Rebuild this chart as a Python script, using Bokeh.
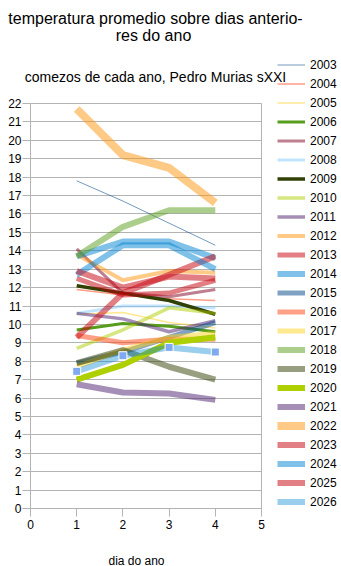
from bokeh.plotting import figure
from bokeh.models import Legend, LegendItem, Label, FixedTicker, Range1d, Grid
from bokeh.embed import file_html
from bokeh.resources import INLINE

days = [1, 2, 3, 4]
years = ["2003", "2004", "2005", "2006", "2007", "2008", "2009", "2010",
         "2011", "2012", "2013", "2014", "2015", "2016", "2017", "2018",
         "2019", "2020", "2021", "2022", "2023", "2024", "2025", "2026"]

t2003 = [17.8, 16.7, 15.5, 14.3]
t2004 = [11.9, 11.6, 11.4, 11.3]
t2005 = [10.55, 10.65, 10.1, 9.8]
t2006 = [9.7, 10.05, 9.9, 9.6]
t2007 = [14.1, 11.7, 11.5, 11.9]
t2008 = [10.6, 11.0, 11.0, 10.9]
t2009 = [12.1, 11.7, 11.3, 10.55]
t2010 = [8.7, 9.7, 10.9, 10.6]
t2011 = [10.6, 10.3, 9.6, 10.2]
t2012 = [13.8, 12.4, 12.9, 12.8]
t2013 = [12.5, 11.6, 11.7, 12.4]
t2014 = [13.7, 14.5, 14.5, 13.6]
t2015 = [7.9, 8.5, 9.3, 10.1]
t2016 = [9.4, 9.0, 9.2, 9.2]
t2017 = [7.7, 8.6, 9.3, 9.5]
t2018 = [13.7, 15.3, 16.2, 16.2]
t2019 = [7.9, 8.6, 7.7, 7.0]
t2020 = [7.0, 7.8, 9.0, 9.3]
t2021 = [6.75, 6.3, 6.25, 5.9]
t2022 = [21.7, 19.2, 18.5, 16.6]
t2023 = [9.3, 11.7, 12.7, 13.7]
t2024 = [12.7, 14.3, 14.3, 13.0]
t2025 = [12.9, 12.0, 12.6, 12.5]
t2026 = [7.45, 8.3, 8.75, 8.5]

series = [t2003, t2004, t2005, t2006, t2007, t2008, t2009, t2010, t2011, t2012,
          t2013, t2014, t2015, t2016, t2017, t2018, t2019, t2020, t2021, t2022,
          t2023, t2024, t2025, t2026]

x_ticks = [0, 1, 2, 3, 4, 5]
y_ticks = list(range(0, 23))

colors = ["#004586", "#ff420e", "#ffd320", "#579d1c", "#7e0021", "#83caff",
          "#314004", "#aecf00", "#4b1f6f", "#ff950e", "#c5000b", "#0084d1",
          "#004586", "#ff420e", "#ffd320", "#579d1c", "#314004", "#aecf00",
          "#4b1f6f", "#ff950e", "#c5000b", "#0084d1", "#c5000b", "#0084d1"]
alphas = [0.55, 0.5, 0.5, 1.0, 0.5, 0.5, 1.0, 0.5, 0.5, 0.5, 0.5, 0.5,
          0.5, 0.5, 0.5, 0.5, 0.5, 1.0, 0.5, 0.5, 0.5, 0.5, 0.5, 0.4]
widths = [1, 1.5, 1.5, 3, 3, 3, 3.5, 3.5, 3.5, 4, 5, 6,
          5, 5, 5, 6, 6, 6, 6, 8, 6, 6, 6, 6]

FONT = "Liberation Sans"
GRID = "#b3b3b3"
W, H = 341, 566

# plot area: x 0..5 -> px 30..261, y 0..22 -> px 508..103.
# the frame fills the whole canvas; axes are pinned at 0 with fixed_location
PXX = 231 / 5.0
PXY = 405 / 22.0
X_MIN = -30 / PXX
X_MAX = (W - 30) / PXX
Y_MIN = -(H - 508) / PXY
Y_MAX = 508 / PXY

p = figure(width=W, height=H, output_backend="svg", toolbar_location=None,
           x_range=Range1d(X_MIN, X_MAX), y_range=Range1d(Y_MIN, Y_MAX),
           min_border_left=0, min_border_right=0,
           min_border_top=0, min_border_bottom=0)
p.outline_line_color = None

items = []
for yr, vals, c, a, w in zip(years, series, colors, alphas, widths):
    r = p.line(days, vals, line_color=c, line_alpha=a, line_width=w)
    items.append(LegendItem(label=yr, renderers=[r]))

p.scatter(days, t2026, marker="square", size=8, fill_color="#7faaf0",
          line_color="white", line_width=1)

legend = Legend(items=items, location=(277, H - 509), padding=0, margin=0,
                border_line_color=None, background_fill_alpha=0,
                glyph_width=28, glyph_height=15, label_height=15, spacing=4,
                label_standoff=5, label_text_font=FONT,
                label_text_font_size="12px", label_text_color="#000000")
p.add_layout(legend, "center")

p.xgrid.visible = False
p.ygrid.grid_line_color = GRID
p.ygrid.ticker = FixedTicker(ticks=y_ticks)
p.ygrid.bounds = (0, 22)
has_cross = "cross_bounds" in Grid.properties()
if has_cross:
    p.ygrid.cross_bounds = (0, 5)
# right border of the plot area
rgrid = Grid(dimension=0, ticker=FixedTicker(ticks=[x_ticks[-1]]), grid_line_color=GRID)
if has_cross:
    rgrid.cross_bounds = (0, 22)
p.add_layout(rgrid, "center")

p.yaxis.ticker = FixedTicker(ticks=y_ticks)
p.xaxis.ticker = FixedTicker(ticks=x_ticks)
p.yaxis.bounds = (0, 22)
p.xaxis.bounds = (0, 5)
p.yaxis.fixed_location = 0
p.xaxis.fixed_location = 0

for ax in (p.xaxis[0], p.yaxis[0]):
    ax.axis_line_color = GRID
    ax.major_tick_line_color = GRID
    ax.minor_tick_line_color = None
    ax.major_tick_out = 8
    ax.major_tick_in = 0
    ax.major_label_text_font = FONT
    ax.major_label_text_font_size = "12px"
    ax.major_label_text_color = "#000000"
p.xaxis.major_label_standoff = 3
p.yaxis.major_label_standoff = 1


def px2x(px):
    return (px - 30) / PXX


def px2y(py):
    return (508 - py) / PXY


def add_text(text, cx, base_y, size):
    p.add_layout(Label(x=px2x(cx), y=px2y(base_y), text=text,
                       text_align="center", text_baseline="alphabetic",
                       text_font=FONT, text_font_size=size, text_color="#000000"))


add_text("temperatura promedio sobre dias anterio-", 155, 18, "16px")
add_text("res do ano", 153, 35, "16px")
add_text("comezos de cada ano, Pedro Murias sXXI", 155, 76, "14px")
add_text("dia do ano", 136, 560, "12px")

open("out.html", "w").write(file_html(p, INLINE))
